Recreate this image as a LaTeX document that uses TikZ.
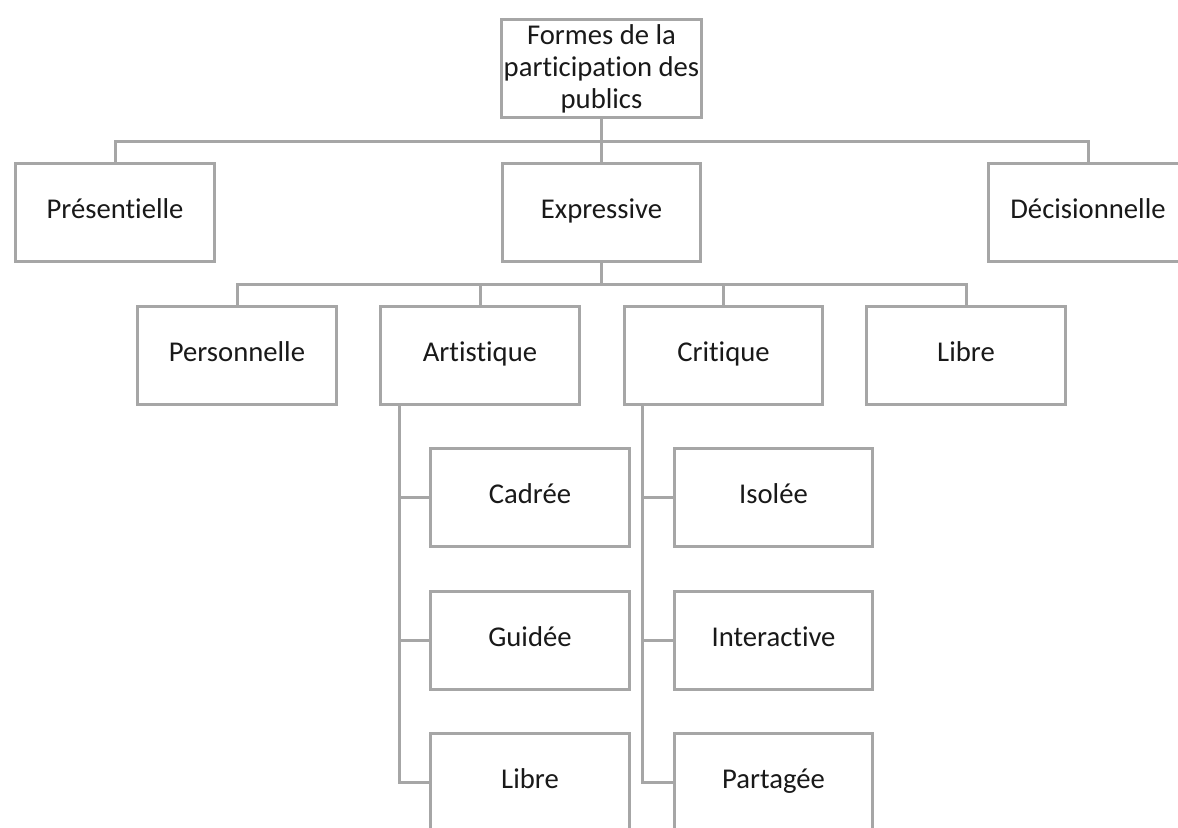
\documentclass[tikz,border=0pt]{standalone}
\usepackage{fontspec}
\setmainfont{Carlito}[Ligatures={NoCommon}]
\definecolor{boxgray}{HTML}{A6A6A6}
\begin{document}
\begin{tikzpicture}[x=0.75pt,y=-0.75pt,
  box/.style={draw=boxgray,line width=2.25pt,fill=white,minimum width=149pt,minimum height=73.5pt,inner sep=2pt,align=center,font=\fontsize{21.5}{24}\selectfont,text=black!90},
  leaf/.style={box,text height=14pt,text depth=5pt},
  link/.style={draw=boxgray,line width=2.25pt}]
\useasboundingbox (0,0) rectangle (1178,828);
\clip (0,0) rectangle (1178,828);
\node[box] (root) at (601.5,68.5) {Formes de la\\participation des\\publics};
\node[leaf] (pres) at (115,212) {Présentielle};
\node[leaf] (expr) at (601.5,212) {Expressive};
\node[leaf] (deci) at (1088,212) {Décisionnelle};
\node[leaf] (pers) at (237,355) {Personnelle};
\node[leaf] (art) at (480,355) {Artistique};
\node[leaf] (crit) at (723.5,355) {Critique};
\node[leaf] (libA) at (966,355) {Libre};
\node[leaf] (cad) at (530,497.5) {Cadrée};
\node[leaf] (gui) at (530,640) {Guidée};
\node[leaf] (libB) at (530,782.5) {Libre};
\node[leaf] (iso) at (773.5,497.5) {Isolée};
\node[leaf] (inter) at (773.5,640) {Interactive};
\node[leaf] (part) at (773.5,782.5) {Partagée};
\coordinate (busA) at (0,141);
\coordinate (busB) at (0,284);
\draw[link] (pres.north) -- (pres.north |- busA) -- (deci.north |- busA) -- (deci.north);
\draw[link] (root.south) -- (expr.north);
\draw[link] (pers.north) -- (pers.north |- busB) -- (libA.north |- busB) -- (libA.north);
\draw[link] (expr.south) -- (expr.south |- busB);
\draw[link] (art.north) -- (art.north |- busB);
\draw[link] (crit.north) -- (crit.north |- busB);
\coordinate (artL) at ([xshift=15pt]art.south west);
\coordinate (critL) at ([xshift=15pt]crit.south west);
\draw[link] (artL) |- (libB.west);
\draw[link] (artL |- cad.west) -- (cad.west);
\draw[link] (artL |- gui.west) -- (gui.west);
\draw[link] (critL) |- (part.west);
\draw[link] (critL |- iso.west) -- (iso.west);
\draw[link] (critL |- inter.west) -- (inter.west);
\end{tikzpicture}
\end{document}
